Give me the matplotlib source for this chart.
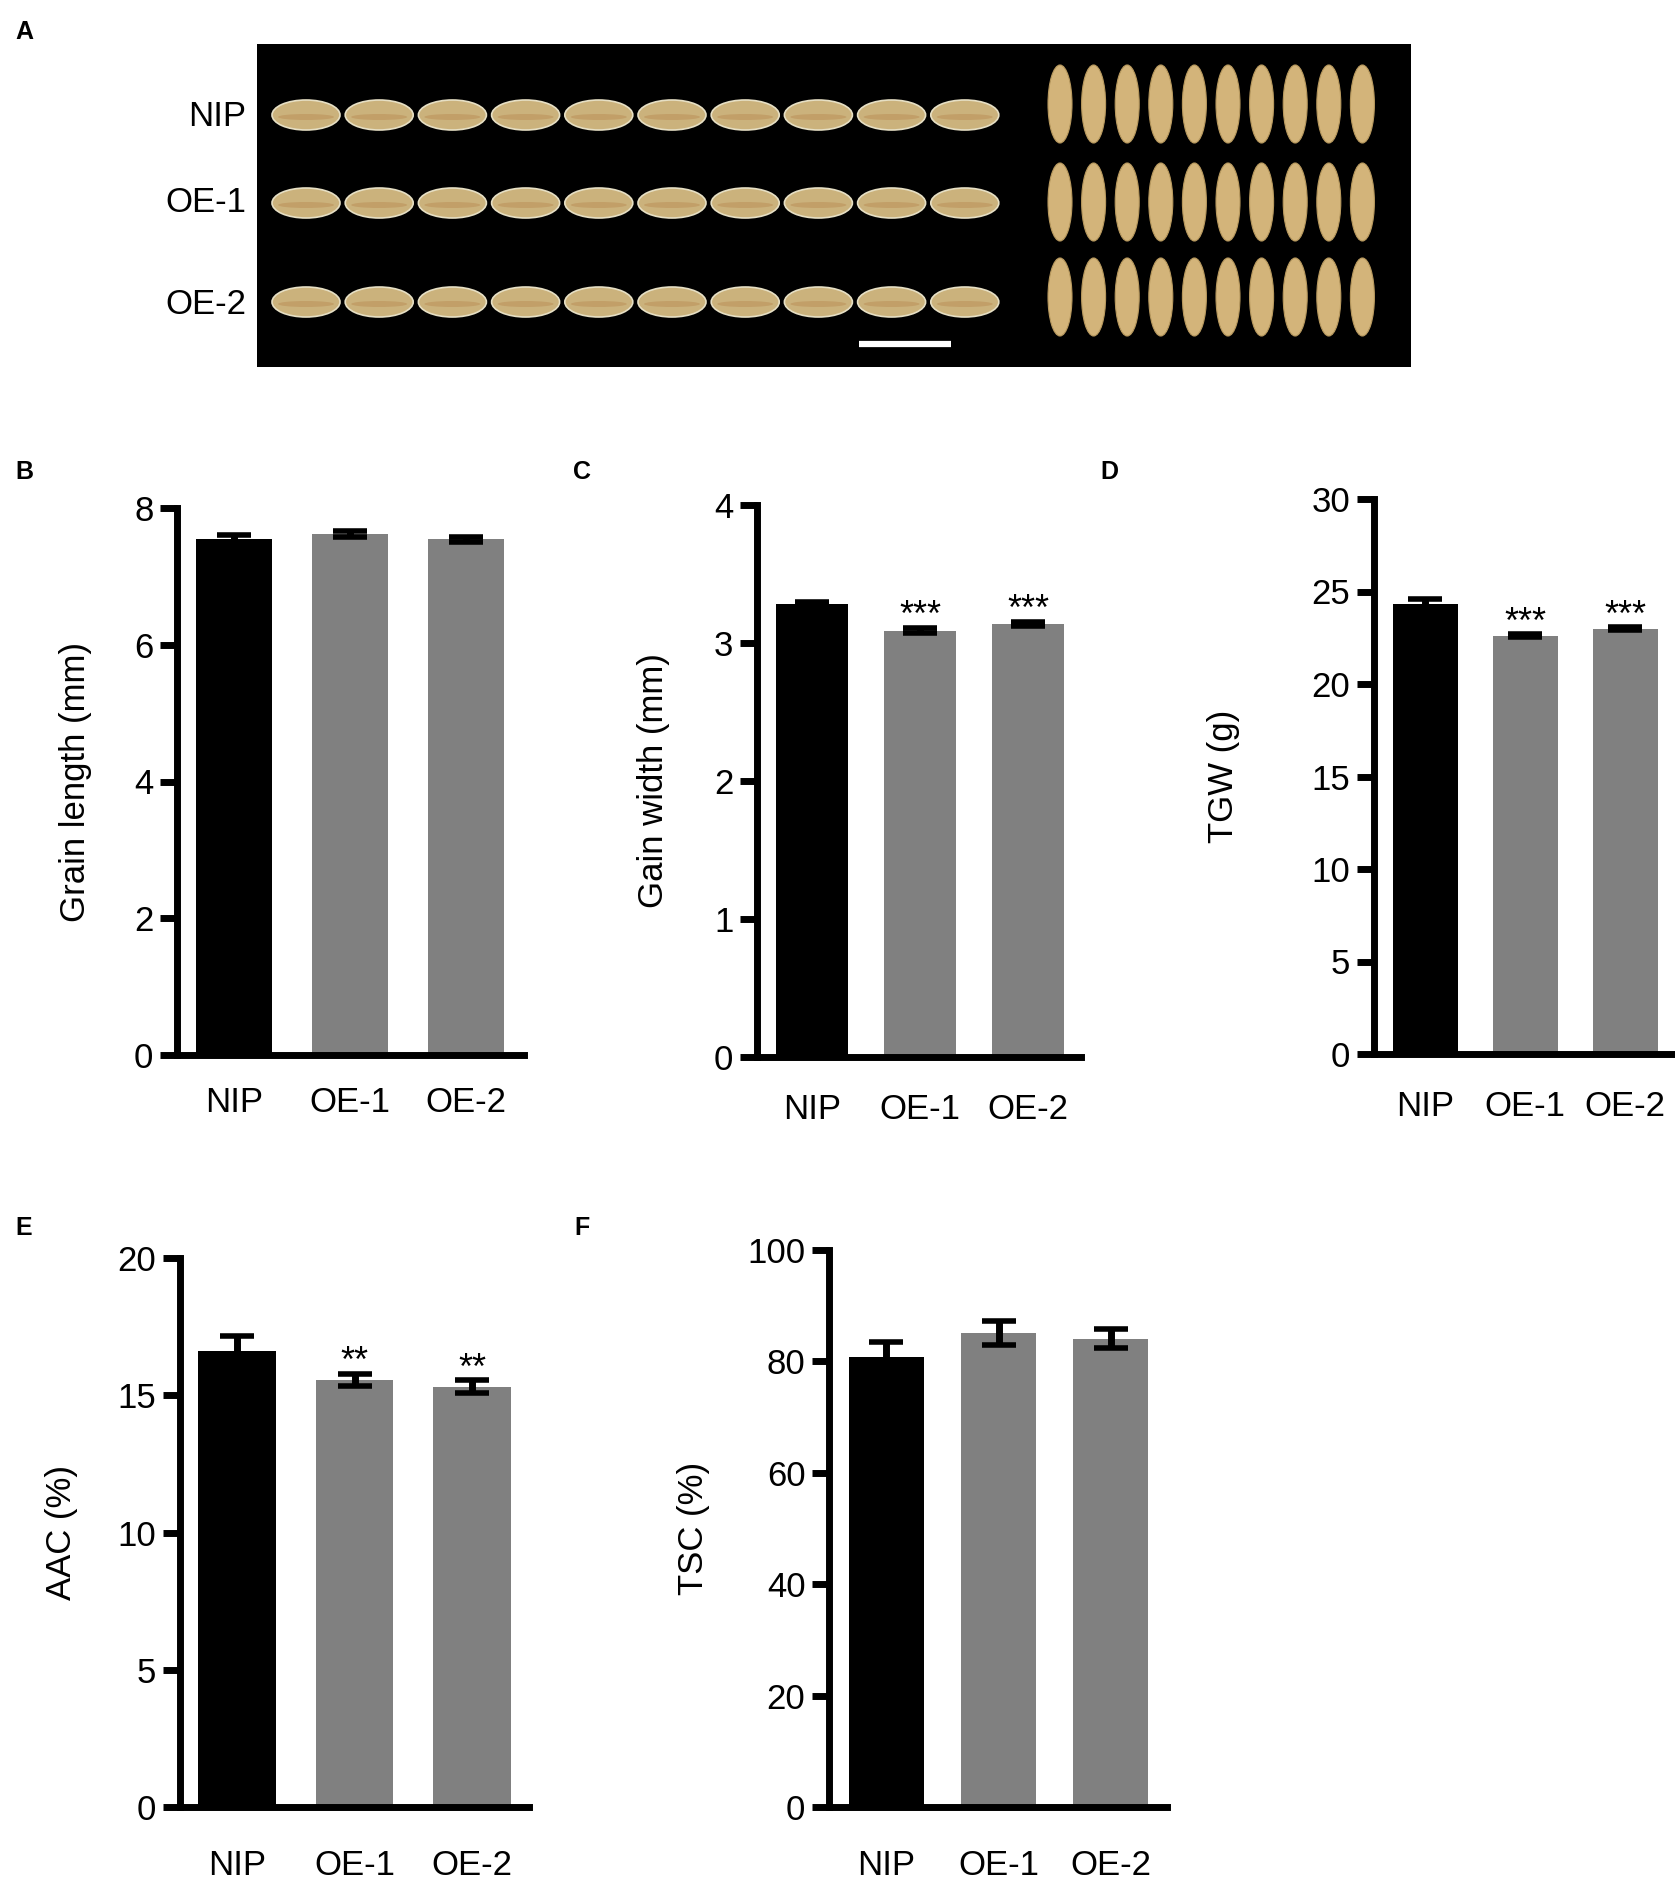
#!/bin/env python3

'''
Grain shape and quality of NIP and the two overexpression lines (panels A-F)
'''

import matplotlib
matplotlib.use("Agg")
import matplotlib.pyplot as plt
from matplotlib.patches import Ellipse

plt.rcParams['font.family'] = ['Liberation Sans', 'DejaVu Sans']

W, H = 1675, 1887

##############################################################
# Data
##############################################################
lines = ["NIP", "OE-1", "OE-2"]
bar_colors = ["#000000", "#808080", "#808080"]

grain_length = [7.55, 7.62, 7.54]
grain_length_err = [0.06, 0.05, 0.04]

grain_width = [3.28, 3.09, 3.14]
grain_width_err = [0.015, 0.02, 0.015]

tgw = [24.35, 22.6, 23.0]
tgw_err = [0.25, 0.08, 0.08]

aac = [16.62, 15.55, 15.31]
aac_err = [0.55, 0.23, 0.23]

tsc = [80.8, 85.1, 84.1]
tsc_err = [2.6, 2.15, 1.65]

signif_width = ["", "***", "***"]
signif_tgw = ["", "***", "***"]
signif_aac = ["", "**", "**"]

# photo (panel A): number of grains laid out per row
grains_per_row = [10, 10, 10]


def fig_rect(left, right, top, bottom):
    '''pixel box -> figure fraction rect'''
    return [left / W, 1 - bottom / H, (right - left) / W, (bottom - top) / H]


def panel_letter(x, y, s):
    plt.gcf().text(x / W, 1 - y / H, s, fontsize=18, fontweight="bold",
                   ha="center", va="center")


##############################################################
# Bar panels
##############################################################
def bar_panel(fig, box, vals, errs, yticks, ylabel, ylabel_x, xlim, width,
              stars=None, label_pad=24):
    ax = fig.add_axes(fig_rect(*box))
    x = range(len(lines))
    ax.bar(x, vals, width=width, color=bar_colors, zorder=2)
    ax.errorbar(x, vals, yerr=errs, fmt="none", ecolor="black",
                elinewidth=5, capsize=12, capthick=4, zorder=3, clip_on=False)
    if stars:
        for xi, v, e, s in zip(x, vals, errs, stars):
            if s:
                ax.annotate(s, (xi, v + e), xytext=(0, 1),
                            textcoords="offset points", ha="center",
                            va="baseline", fontsize=26)
    ax.set_xlim(*xlim)
    ax.set_ylim(yticks[0], yticks[-1])
    ax.set_yticks(yticks)
    ax.set_xticks(list(x))
    ax.set_xticklabels(lines, fontsize=25)
    ax.tick_params(axis="y", length=12, width=5, labelsize=25, pad=5)
    ax.tick_params(axis="x", length=0, pad=label_pad)
    for side in ["top", "right"]:
        ax.spines[side].set_visible(False)
    for side in ["left", "bottom"]:
        ax.spines[side].set_linewidth(5)
    cy = (box[2] + box[3]) / 2
    fig.text(ylabel_x / W, 1 - cy / H, ylabel, rotation=90, fontsize=25,
             ha="center", va="center")
    return ax


fig = plt.figure(figsize=(W / 100, H / 100), dpi=100)

##############################################################
# Panel A (grain photo)
##############################################################
panel_letter(24, 32, "A")
ax_a = fig.add_axes(fig_rect(257, 1411, 44, 367))
ax_a.set_facecolor("black")
ax_a.set_xlim(0, 1154)
ax_a.set_ylim(323, 0)
ax_a.set_xticks([])
ax_a.set_yticks([])
for sp in ax_a.spines.values():
    sp.set_visible(False)

row_y = [71, 159, 258]
vert_y = [60, 158, 253]
for r, n in enumerate(grains_per_row):
    for i in range(n):
        ax_a.add_patch(Ellipse((49 + 73.2 * i, row_y[r]), 68, 30,
                               facecolor="#cbb27c", edgecolor="#e6dfc4",
                               linewidth=1.2))
        ax_a.add_patch(Ellipse((49 + 73.2 * i, row_y[r] + 2), 56, 6,
                               facecolor="#c29f68", edgecolor="none"))
        ax_a.add_patch(Ellipse((803 + 33.6 * i, vert_y[r]), 24, 78,
                               facecolor="#d3b47a", edgecolor="#b8995e",
                               linewidth=0.8))
ax_a.plot([602, 694], [300, 300], color="white", linewidth=4.5,
          solid_capstyle="butt")

for lab, yy in zip(lines, [116, 202, 304]):
    fig.text(246 / W, 1 - yy / H, lab, fontsize=25, ha="right", va="center")

##############################################################
# Panels B-F
##############################################################
panel_letter(24, 472, "B")
bar_panel(fig, (177, 524, 508, 1055), grain_length, grain_length_err,
          [0, 2, 4, 6, 8], "Grain length (mm)", 75, (-0.49, 2.5), 0.65,
          label_pad=22)

panel_letter(582, 472, "C")
bar_panel(fig, (757, 1081, 505, 1057), grain_width, grain_width_err,
          [0, 1, 2, 3, 4], "Gain width (mm)", 654, (-0.51, 2.49), 0.67,
          stars=signif_width, label_pad=26)

panel_letter(1109, 472, "D")
bar_panel(fig, (1374, 1673, 499, 1054), tgw, tgw_err,
          [0, 5, 10, 15, 20, 25, 30], "TGW (g)", 1223, (-0.51, 2.48), 0.65,
          stars=signif_tgw, label_pad=26)

panel_letter(24, 1228, "E")
bar_panel(fig, (180, 529, 1258, 1807), aac, aac_err,
          [0, 5, 10, 15, 20], "AAC (%)", 62, (-0.485, 2.485), 0.66,
          stars=signif_aac, label_pad=30)

panel_letter(582, 1228, "F")
bar_panel(fig, (829, 1167, 1250, 1807), tsc, tsc_err,
          [0, 20, 40, 60, 80, 100], "TSC (%)", 693, (-0.51, 2.5), 0.67,
          label_pad=30)

fig.savefig("out.png", dpi=100)
